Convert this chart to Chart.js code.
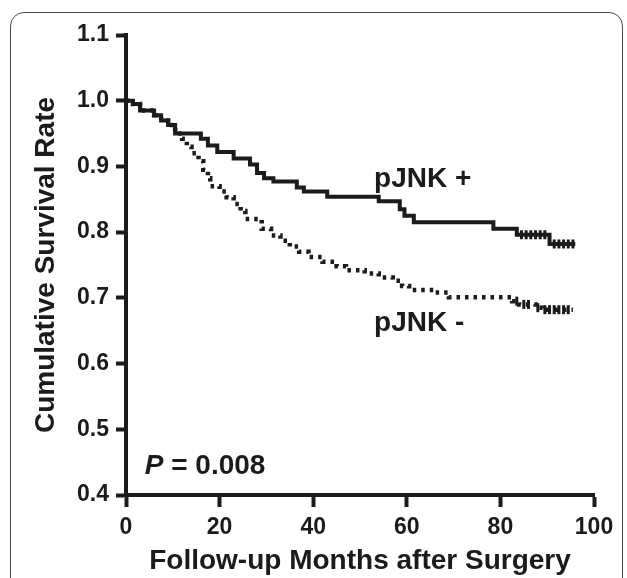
<!DOCTYPE html>
<html>
<head>
<meta charset="utf-8">
<script src="https://cdn.jsdelivr.net/npm/chart.js@4.4.1/dist/chart.umd.min.js"></script>
<style>
  html, body { margin: 0; padding: 0; background: #fff; }
  #wrap { position: relative; width: 627px; height: 578px; overflow: hidden; }
  #frame {
    position: absolute; left: 10px; top: 12px; width: 613px; height: 640px;
    border: 1.5px solid #4a4a4a; border-radius: 14px; box-sizing: border-box;
  }
  canvas { position: absolute; left: 0; top: 0; }
</style>
</head>
<body>
<div id="wrap">
  <div id="frame"></div>
  <canvas id="kmChart" width="627" height="578"></canvas>
</div>
<script>
// Kaplan-Meier steps (month, survival)
const posMonths = [0, 1.5, 3, 6, 7.5, 9, 10.5, 16, 17.5, 19.5, 23, 26.5, 28, 29.5, 31.5, 36.5, 38, 43, 54, 58.5, 59.5, 61.5, 78.5, 83.5, 90.5, 96];
const posSurvival = [1.000, 0.995, 0.985, 0.978, 0.970, 0.963, 0.950, 0.942, 0.932, 0.922, 0.912, 0.903, 0.890, 0.882, 0.877, 0.868, 0.862, 0.854, 0.847, 0.835, 0.825, 0.815, 0.805, 0.796, 0.782, 0.782];

const negMonths = [0, 1.5, 3, 6, 7.5, 9, 10.5, 12, 13, 14, 15.5, 16.5, 17.5, 18, 20, 21.5, 23, 24.5, 25.5, 29, 31, 33, 35, 37, 39, 42, 45, 47, 51, 54, 57, 59, 60.5, 66, 69, 82.5, 84, 87.5, 89, 95.5];
const negSurvival = [1.000, 0.995, 0.985, 0.978, 0.970, 0.963, 0.950, 0.942, 0.930, 0.920, 0.908, 0.895, 0.882, 0.870, 0.862, 0.853, 0.843, 0.832, 0.820, 0.805, 0.795, 0.787, 0.778, 0.770, 0.762, 0.755, 0.748, 0.742, 0.737, 0.731, 0.726, 0.718, 0.712, 0.708, 0.701, 0.695, 0.690, 0.685, 0.682, 0.682];

// censored observations (months)
const posCensored = [84.5, 85.5, 86.5, 87.5, 88.5, 89.5, 91.5, 92.5, 93.5, 94.5, 95.5];
const negCensored = [83.5, 85, 86, 88, 89.5, 90.5, 91.5, 92.5, 93.5, 94.5];

const xTicks = [0, 20, 40, 60, 80, 100];
const yTicks = [0.4, 0.5, 0.6, 0.7, 0.8, 0.9, 1.0, 1.1];

const ink = '#1c1a1b';
const fontFamily = '"Liberation Sans", Arial, sans-serif';

function toPoints(months, values) {
    return months.map((m, i) => ({ x: m, y: values[i] }));
}

// survival value in effect at a given month
function stepValue(months, values, t) {
    let v = values[0];
    for (let i = 0; i < months.length; i++) {
        if (months[i] <= t) v = values[i];
    }
    return v;
}

function censorPoints(censored, months, values) {
    return censored.map(t => ({ x: t, y: stepValue(months, values, t) }));
}

// text labels drawn in data space
const labelPlugin = {
    id: 'labels',
    afterDatasetsDraw(chart) {
        const ctx = chart.ctx;
        const xs = chart.scales.x;
        const ys = chart.scales.y;
        ctx.save();
        ctx.fillStyle = ink;
        ctx.textBaseline = 'middle';
        ctx.textAlign = 'left';
        ctx.font = 'bold 28px ' + fontFamily;
        ctx.fillText('pJNK +', xs.getPixelForValue(53), ys.getPixelForValue(0.88));
        ctx.fillText('pJNK -', xs.getPixelForValue(53), ys.getPixelForValue(0.662));

        const px = xs.getPixelForValue(4);
        const py = ys.getPixelForValue(0.444);
        ctx.font = 'italic bold 28px ' + fontFamily;
        ctx.fillText('P', px, py);
        const w = ctx.measureText('P').width;
        ctx.font = 'bold 28px ' + fontFamily;
        ctx.fillText(' = 0.008', px + w, py);
        ctx.restore();
    }
};

const ctx = document.getElementById('kmChart').getContext('2d');
const kmChart = new Chart(ctx, {
    type: 'line',
    data: {
        datasets: [
            {
                label: 'pJNK +',
                data: toPoints(posMonths, posSurvival),
                borderColor: ink,
                borderWidth: 4,
                stepped: true,
                pointRadius: 0,
                fill: false
            },
            {
                label: 'pJNK -',
                data: toPoints(negMonths, negSurvival),
                borderColor: ink,
                borderWidth: 4.5,
                borderDash: [3.5, 5],
                stepped: true,
                pointRadius: 0,
                fill: false
            },
            {
                type: 'scatter',
                label: 'censored +',
                data: censorPoints(posCensored, posMonths, posSurvival),
                pointStyle: 'line',
                rotation: 90,
                pointRadius: 4.5,
                borderColor: ink,
                borderWidth: 3
            },
            {
                type: 'scatter',
                label: 'censored -',
                data: censorPoints(negCensored, negMonths, negSurvival),
                pointStyle: 'line',
                rotation: 90,
                pointRadius: 4.5,
                borderColor: ink,
                borderWidth: 3
            }
        ]
    },
    options: {
        responsive: false,
        animation: false,
        layout: { padding: { top: 35, right: 33, left: 0, bottom: 0 } },
        plugins: {
            legend: { display: false },
            tooltip: { enabled: false }
        },
        scales: {
            x: {
                type: 'linear',
                min: 0,
                max: 100,
                afterFit: function(scale) { scale.height = 83; },
                afterBuildTicks: function(scale) { scale.ticks = xTicks.map(v => ({ value: v })); },
                border: { color: ink, width: 4 },
                grid: { drawOnChartArea: false, drawTicks: true, tickLength: 12, tickWidth: 4, tickColor: ink },
                ticks: {
                    color: ink,
                    padding: 7,
                    maxRotation: 0,
                    font: { family: fontFamily, size: 23, weight: 'bold' }
                },
                title: {
                    display: true,
                    text: 'Follow-up Months after Surgery',
                    color: ink,
                    padding: { top: 0, bottom: 0 },
                    font: { family: fontFamily, size: 28, weight: 'bold' }
                }
            },
            y: {
                type: 'linear',
                min: 0.4,
                max: 1.1,
                afterFit: function(scale) { scale.width = 126; },
                afterBuildTicks: function(scale) { scale.ticks = yTicks.map(v => ({ value: v })); },
                border: { color: ink, width: 4 },
                grid: { drawOnChartArea: false, drawTicks: true, tickLength: 10, tickWidth: 4, tickColor: ink },
                ticks: {
                    color: ink,
                    padding: 7,
                    callback: function(value) { return value.toFixed(1); },
                    font: { family: fontFamily, size: 23, weight: 'bold' }
                },
                title: {
                    display: true,
                    text: 'Cumulative Survival Rate',
                    color: ink,
                    padding: { top: 29, bottom: 0 },
                    font: { family: fontFamily, size: 28, weight: 'bold' }
                }
            }
        }
    },
    plugins: [labelPlugin]
});
</script>
</body>
</html>
